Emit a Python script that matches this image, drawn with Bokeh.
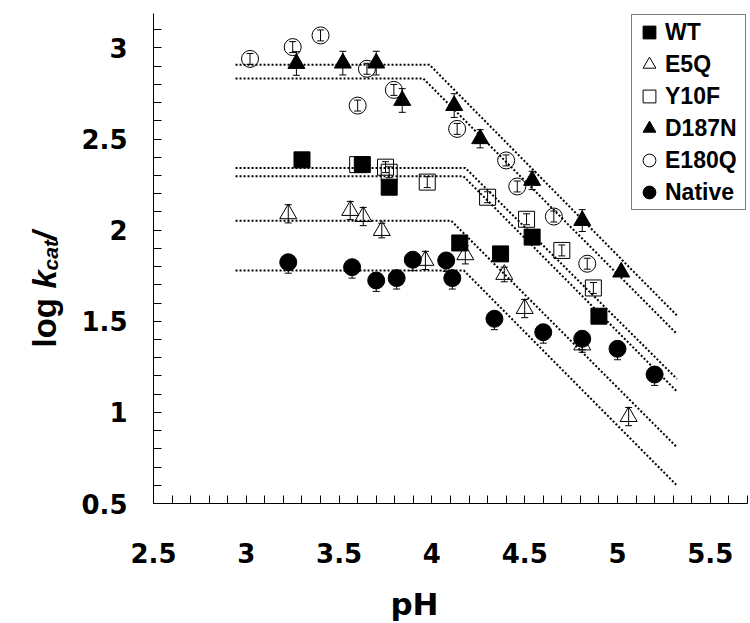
import math
from bokeh.plotting import figure
from bokeh.models import (ColumnDataSource, Whisker, TeeHead, FixedTicker, Legend,
                          LegendItem, Label, Range1d)
from bokeh.embed import file_html
from bokeh.resources import INLINE

# ---------------- data ----------------
wt_ph = [3.30, 3.625, 3.77, 4.15, 4.37, 4.54, 4.90]
wt_log = [2.386, 2.360, 2.236, 1.930, 1.870, 1.962, 1.528]
wt_err = [0.03, 0.03, 0.03, 0.03, 0.03, 0.03, 0.03]

e5q_ph = [3.226, 3.56, 3.63, 3.73, 3.965, 4.18, 4.39, 4.50, 4.81, 5.06]
e5q_log = [2.090, 2.108, 2.075, 1.998, 1.834, 1.865, 1.757, 1.570, 1.370, 0.977]
e5q_err = [0.05, 0.05, 0.05, 0.04, 0.05, 0.05, 0.04, 0.05, 0.04, 0.05]

y10f_ph = [3.60, 3.75, 3.77, 3.975, 4.30, 4.51, 4.70, 4.87]
y10f_log = [2.360, 2.346, 2.318, 2.264, 2.181, 2.060, 1.889, 1.683]
y10f_err = [0.02, 0.03, 0.03, 0.03, 0.03, 0.03, 0.03, 0.03]

d187n_ph = [3.27, 3.52, 3.70, 3.84, 4.12, 4.26, 4.54, 4.81, 5.02]
d187n_log = [2.915, 2.917, 2.917, 2.712, 2.684, 2.502, 2.273, 2.053, 1.770]
d187n_err = [0.065, 0.065, 0.065, 0.065, 0.065, 0.05, 0.05, 0.06, 0.02]

e180q_ph = [3.02, 3.25, 3.40, 3.60, 3.65, 3.795, 4.136, 4.40, 4.46, 4.657, 4.837]
e180q_log = [2.940, 3.005, 3.069, 2.684, 2.886, 2.770, 2.556, 2.383, 2.240, 2.075, 1.816]
e180q_err = [0.03, 0.03, 0.03, 0.03, 0.03, 0.03, 0.03, 0.03, 0.03, 0.03, 0.03]

native_ph = [3.226, 3.57, 3.70, 3.81, 3.897, 4.077, 4.11, 4.337, 4.60, 4.81, 5.00, 5.20]
native_log = [1.824, 1.797, 1.724, 1.737, 1.838, 1.834, 1.737, 1.514, 1.440, 1.404, 1.349, 1.208]
native_err_lo = [0.06, 0.06, 0.06, 0.06, 0.06, 0.06, 0.06, 0.06, 0.06, 0.06, 0.06, 0.06]
native_err_hi = [0.03, 0.03, 0.03, 0.03, 0.03, 0.03, 0.03, 0.03, 0.03, 0.03, 0.03, 0.03]

# fitted (dotted) pH profiles: plateau, break pH, value at end of line
fit_names = ["D187N", "E180Q", "WT", "Y10F", "E5Q", "Native"]
fit_plateau = [2.908, 2.833, 2.342, 2.296, 2.052, 1.779]
fit_break_ph = [3.987, 3.953, 4.180, 4.170, 4.104, 4.172]
fit_end_log = [1.532, 1.431, 1.184, 1.115, 0.809, 0.599]
fit_ph_start = 2.942
fit_ph_end = 5.32

x_tick_values = [2.5, 3.0, 3.5, 4.0, 4.5, 5.0, 5.5]
x_tick_labels = ["2.5", "3", "3.5", "4", "4.5", "5", "5.5"]
x_minor_values = [2.6, 2.7, 2.8, 2.9, 3.1, 3.2, 3.3, 3.4, 3.6, 3.7, 3.8, 3.9,
                  4.1, 4.2, 4.3, 4.4, 4.6, 4.7, 4.8, 4.9, 5.1, 5.2, 5.3, 5.4, 5.6, 5.7]
y_tick_values = [0.5, 1.0, 1.5, 2.0, 2.5, 3.0]
y_tick_labels = ["0.5", "1", "1.5", "2", "2.5", "3"]
y_minor_values = [0.6, 0.7, 0.8, 0.9, 1.1, 1.2, 1.3, 1.4, 1.6, 1.7, 1.8, 1.9,
                  2.1, 2.2, 2.3, 2.4, 2.6, 2.7, 2.8, 2.9, 3.1]

# ---------------- figure ----------------
AXIS_FONT = "DejaVu Sans"
LEG_FONT = "Liberation Sans"

# the frame covers the whole canvas; the axes sit at fixed data locations
p = figure(width=750, height=623, output_backend="svg", toolbar_location=None,
           title=None,
           x_range=Range1d(1.6756, 5.7166), y_range=Range1d(-0.1586, 3.2607),
           min_border_left=0, min_border_right=0, min_border_top=0,
           min_border_bottom=0)
p.outline_line_color = None
p.xgrid.visible = False
p.ygrid.visible = False
p.background_fill_color = "white"

# fitted lines
xs = [[fit_ph_start, b, fit_ph_end] for b in fit_break_ph]
ys = [[pl, pl, e] for pl, e in zip(fit_plateau, fit_end_log)]
p.multi_line(xs=xs, ys=ys, line_color="black", line_width=2, line_dash="2 2")

def add_series(ph, lg, lo, hi, marker, filled, size):
    src = ColumnDataSource(dict(x=ph, y=lg,
                                upper=[v + h for v, h in zip(lg, hi)],
                                lower=[v - l for v, l in zip(lg, lo)]))
    w = Whisker(source=src, base="x", upper="upper", lower="lower",
                dimension="height", line_color="black", line_width=1,
                level="underlay",
                upper_head=TeeHead(size=7, line_color="black", line_width=1),
                lower_head=TeeHead(size=7, line_color="black", line_width=1))
    p.add_layout(w)
    if filled:
        r = p.scatter("x", "y", source=src, marker=marker, size=size,
                      fill_color="black", line_color="black", line_width=1)
    else:
        r = p.scatter("x", "y", source=src, marker=marker, size=size,
                      fill_color=None, line_color="black", line_width=1)
    return r

r_native = add_series(native_ph, native_log, native_err_lo, native_err_hi, "circle", True, 17)
r_e5q = add_series(e5q_ph, e5q_log, e5q_err, e5q_err, "triangle", False, 17)
r_y10f = add_series(y10f_ph, y10f_log, y10f_err, y10f_err, "square", False, 16)
r_wt = add_series(wt_ph, wt_log, wt_err, wt_err, "square", True, 16)
r_e180q = add_series(e180q_ph, e180q_log, e180q_err, e180q_err, "circle", False, 17)
r_d187n = add_series(d187n_ph, d187n_log, d187n_err, d187n_err, "triangle", True, 17)

# axes
for ax in (p.xaxis[0], p.yaxis[0]):
    ax.axis_line_color = "black"
    ax.axis_line_width = 1
    ax.major_tick_in = 8
    ax.major_tick_out = 0
    ax.minor_tick_in = 8
    ax.minor_tick_out = 0
    ax.major_tick_line_color = "black"
    ax.minor_tick_line_color = "black"
    ax.major_label_text_font = AXIS_FONT
    ax.major_label_text_font_style = "bold"
    ax.major_label_text_font_size = "26px"
    ax.major_label_text_color = "black"

p.xaxis[0].fixed_location = 0.5
p.xaxis[0].bounds = (2.5, 5.7)
p.xaxis[0].ticker = FixedTicker(ticks=x_tick_values, minor_ticks=x_minor_values)
p.xaxis[0].major_label_overrides = {v: s for v, s in zip(x_tick_values, x_tick_labels)}
p.xaxis[0].major_label_standoff = 39
p.yaxis[0].fixed_location = 2.5
p.yaxis[0].bounds = (0.5, 3.19)
p.yaxis[0].ticker = FixedTicker(ticks=y_tick_values, minor_ticks=y_minor_values)
p.yaxis[0].major_label_overrides = {v: s for v, s in zip(y_tick_values, y_tick_labels)}
p.yaxis[0].major_label_standoff = 26

# axis titles
p.add_layout(Label(x=3.906, y=-0.0505, text="pH", text_align="center",
                   text_baseline="alphabetic", text_font=AXIS_FONT,
                   text_font_style="bold", text_font_size="31px", text_color="black"))

ang = math.pi / 2
ylab = [("log ", 1.910, 1.356, "bold", "33px"),
        ("k", 1.910, 1.680, "bold italic", "33px"),
        ("cat", 1.945, 1.779, "bold italic", "21px"),
        ("/", 1.910, 1.943, "bold italic", "33px")]
for txt, xx, yy, st, fs in ylab:
    p.add_layout(Label(x=xx, y=yy, text=txt, angle=ang, text_align="left",
                       text_baseline="alphabetic", text_font=LEG_FONT,
                       text_font_style=st, text_font_size=fs, text_color="black"))

# legend
legend = Legend(items=[LegendItem(label="WT", renderers=[r_wt]),
                       LegendItem(label="E5Q", renderers=[r_e5q]),
                       LegendItem(label="Y10F", renderers=[r_y10f]),
                       LegendItem(label="D187N", renderers=[r_d187n]),
                       LegendItem(label="E180Q", renderers=[r_e180q]),
                       LegendItem(label="Native", renderers=[r_native])],
                location=(631, 413), orientation="vertical",
                glyph_width=32, glyph_height=32, spacing=0, padding=1,
                margin=0, label_standoff=0, label_width=79, label_height=20,
                label_text_font=LEG_FONT, label_text_font_style="bold",
                label_text_font_size="23px", label_text_color="black",
                border_line_color="black", border_line_width=1,
                background_fill_color="white", background_fill_alpha=1)
p.add_layout(legend)

open("out.html", "w").write(file_html(p, INLINE))
